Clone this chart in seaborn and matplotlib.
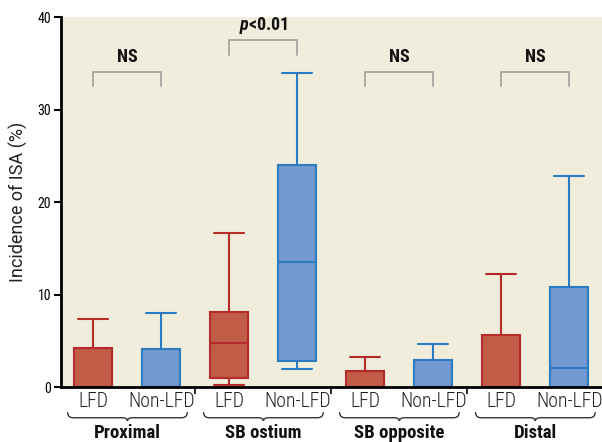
import matplotlib
matplotlib.use("Agg")
import matplotlib.pyplot as plt
import matplotlib.transforms as mtransforms
from matplotlib import font_manager
from matplotlib.path import Path
from matplotlib.patches import PathPatch
import numpy as np
import pandas as pd
import seaborn as sns

# five-number summaries: min, q1, median, q3, max
sites = ["Proximal", "SB ostium", "SB opposite", "Distal"]
kinds = ["LFD", "Non-LFD"]
lfd_values = [
    [0.0, 0.0, 0.0, 4.25, 7.4],
    [0.2, 0.95, 4.8, 8.1, 16.7],
    [0.0, 0.0, 0.0, 1.7, 3.2],
    [0.0, 0.0, 0.0, 5.6, 12.2],
]
non_lfd_values = [
    [0.0, 0.0, 0.0, 4.1, 8.0],
    [1.95, 2.8, 13.5, 24.0, 34.0],
    [0.0, 0.0, 0.0, 2.9, 4.6],
    [0.0, 0.0, 2.05, 10.85, 22.8],
]
sig_labels = ["NS", "p<0.01", "NS", "NS"]
sig_heights = [34.1, 37.5, 34.1, 34.1]

face = {"LFD": "#C15C47", "Non-LFD": "#7399D1"}
edge = {"LFD": "#B52A2A", "Non-LFD": "#2B7BC3"}
bg = "#F1EDDC"


def _pick_font(candidates):
    have = {f.name for f in font_manager.fontManager.ttflist}
    for c in candidates:
        if c in have:
            return c
    return "DejaVu Sans"


font = _pick_font(["Roboto Condensed", "Barlow Semi Condensed", "Barlow Condensed",
                   "Sofia Sans Condensed", "Liberation Sans Narrow", "Saira SemiCondensed"])
label_font = _pick_font(["Roboto", "Liberation Sans", "DejaVu Sans"])

rows = []
for site, lv, nv in zip(sites, lfd_values, non_lfd_values):
    for v in lv:
        rows.append({"site": site, "kind": "LFD", "value": v})
    for v in nv:
        rows.append({"site": site, "kind": "Non-LFD", "value": v})
df = pd.DataFrame(rows)

sns.set_theme(style="ticks")
plt.rcParams["font.family"] = [font, "DejaVu Sans"]
plt.rcParams["mathtext.fontset"] = "custom"
plt.rcParams["mathtext.it"] = f"{font}:italic:bold"
plt.rcParams["mathtext.rm"] = f"{font}:bold"

fig = plt.figure(figsize=(6.02, 4.42), dpi=100)
ax = fig.add_axes([0.101, 0.1244, 0.899, 0.8371])
ax.set_facecolor(bg)

for k in kinds:
    sns.boxplot(
        data=df[df["kind"] == k],
        x="site",
        y="value",
        hue="kind",
        order=sites,
        hue_order=kinds,
        palette=face,
        saturation=1,
        linecolor=edge[k],
        linewidth=1.5,
        width=1.0,
        gap=0.44,
        dodge=True,
        whis=(0, 100),
        showfliers=False,
        legend=False,
        capwidths=0.22,
        ax=ax,
    )

ax.set_xlim(-0.49, 3.49)
ax.set_ylim(0, 40)
ax.set_yticks([0, 10, 20, 30, 40])
ax.set_xticks([0.5, 1.5, 2.5])
ax.set_xticklabels([])
ax.tick_params(axis="y", length=5, width=1.5, labelsize=10, colors="black", pad=2)
ax.tick_params(axis="x", length=5, width=1.2, colors="black")
ax.set_xlabel("")
ax.set_ylabel("Incidence of ISA (%)", fontsize=13, labelpad=7, color="#222222",
              family=[label_font, "DejaVu Sans"])
for s in ["top", "right"]:
    ax.spines[s].set_visible(False)
for s in ["left", "bottom"]:
    ax.spines[s].set_linewidth(2)
    ax.spines[s].set_color("black")

# category labels, braces and group names below the axis
trans = mtransforms.blended_transform_factory(ax.transData, ax.transAxes)
for i, site in enumerate(sites):
    for j, k in enumerate(kinds):
        ax.text(i - 0.25 + 0.5 * j, -0.04, k, transform=trans, ha="center", va="center",
                fontsize=14.3, fontweight="light", color="#222222", clip_on=False)
    x0, x1, xm = i - 0.44, i + 0.44, i
    y0, y1, y2 = -0.068, -0.083, -0.092
    verts = [
        (x0, y0), (x0, y1), (x0 + 0.04, y1),
        (xm - 0.04, y1), (xm, y1), (xm, y2),
        (xm, y1), (xm + 0.04, y1),
        (x1 - 0.04, y1), (x1, y1), (x1, y0),
    ]
    codes = [Path.MOVETO, Path.CURVE3, Path.CURVE3,
             Path.LINETO, Path.CURVE3, Path.CURVE3,
             Path.CURVE3, Path.CURVE3,
             Path.LINETO, Path.CURVE3, Path.CURVE3]
    ax.add_patch(PathPatch(Path(verts, codes), transform=trans, fill=False,
                           edgecolor="#333333", linewidth=1.0, clip_on=False))
    ax.text(i, -0.125, site, transform=trans, ha="center", va="center",
            fontsize=13.5, fontweight="bold", color="#111111", clip_on=False)

# significance brackets
for i, (lab, h) in enumerate(zip(sig_labels, sig_heights)):
    xa, xb = i - 0.25, i + 0.25
    ax.plot([xa, xa, xb, xb], [h - 1.6, h, h, h - 1.6], color="#A5A5A5", lw=1.3,
            solid_joinstyle="miter")
    txt = "$p$<0.01" if lab.startswith("p") else lab
    ax.text(i, h + 1.6, txt, ha="center", va="center", fontsize=13, fontweight="bold",
            color="#111111")

fig.savefig("out.png", dpi=100)
